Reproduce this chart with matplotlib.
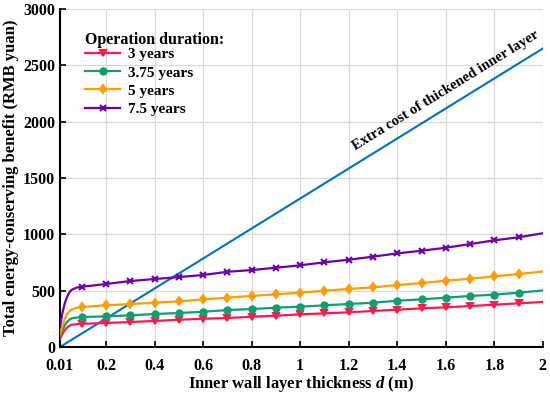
import numpy as np
import matplotlib.pyplot as plt

plt.rcParams['font.family'] = ['Liberation Serif', 'DejaVu Serif']
plt.rcParams['font.weight'] = 'bold'
plt.rcParams['axes.labelweight'] = 'bold'
plt.rcParams['mathtext.fontset'] = 'custom'
plt.rcParams['mathtext.it'] = 'Liberation Serif:italic:bold'
plt.rcParams['mathtext.rm'] = 'Liberation Serif:bold'

# thickness d (m)
d_start = [0.01, 0.02, 0.03, 0.04, 0.05, 0.06, 0.08]
d_mark = [0.1, 0.2, 0.3, 0.4, 0.5, 0.6, 0.7, 0.8, 0.9, 1.0,
          1.1, 1.2, 1.3, 1.4, 1.5, 1.6, 1.7, 1.8, 1.9]
d_end = [2.0]

labels = ['3 years', '3.75 years', '5 years', '7.5 years']

# early rise (d_start), marked points (d_mark), end (d_end)
y3_start = [70, 115, 150, 175, 190, 198, 203]
y3_mark = [206, 213, 222, 231, 242, 251, 257, 269, 278, 290,
           299, 308, 320, 331, 343, 352, 364, 375, 388]
y3_end = [400]

y375_start = [100, 150, 195, 225, 245, 255, 262]
y375_mark = [266, 272, 281, 293, 302, 313, 328, 337, 349, 358,
             370, 382, 393, 411, 423, 438, 453, 465, 482]
y375_end = [502]

y5_start = [115, 190, 250, 295, 320, 335, 348]
y5_mark = [355, 370, 382, 393, 405, 423, 438, 453, 468, 482,
           500, 515, 530, 550, 568, 588, 606, 627, 648]
y5_end = [670]

y75_start = [180, 300, 390, 450, 490, 510, 528]
y75_mark = [535, 559, 586, 603, 621, 639, 668, 683, 704, 725,
            752, 775, 802, 831, 855, 881, 914, 947, 974]
y75_end = [1010]

# extra cost line
cost_d = [0.01, 2.0]
cost_y = [0, 2650]

colors = ['#FF1A4B', '#0E9F6E', '#FF9E00', '#6E00AA']
markers = ['v', 'o', 'd', 'x']
series = [(y3_start, y3_mark, y3_end),
          (y375_start, y375_mark, y375_end),
          (y5_start, y5_mark, y5_end),
          (y75_start, y75_mark, y75_end)]

fig = plt.figure(figsize=(5.5, 3.93), dpi=100)
ax = fig.add_axes([0.109, 0.117, 0.878, 0.86])

ax.plot(cost_d, cost_y, color='#0072BD', lw=1.5, zorder=2)

for (ys, ym, ye), c, m, lab in zip(series, colors, markers, labels):
    dd = d_start + d_mark + d_end
    yy = ys + ym + ye
    ax.plot(dd, yy, color=c, lw=1.6, zorder=3)
    ax.plot(d_mark, ym, color=c, lw=0, marker=m, ms=4.5, mew=1.5, zorder=4)
    ax.plot([], [], color=c, lw=1.6, marker=m, ms=4.5, mew=1.5, label=lab)

ax.text(1.6, 2280, 'Extra cost of thickened inner layer', rotation=31.7,
        ha='center', va='center', fontsize=10.5, fontweight='bold')

ax.set_xlim(0.01, 2)
ax.set_ylim(0, 3000)
xt = [0.01, 0.2, 0.4, 0.6, 0.8, 1, 1.2, 1.4, 1.6, 1.8, 2]
xtl = ['0.01', '0.2', '0.4', '0.6', '0.8', '1', '1.2', '1.4', '1.6', '1.8', '2']
ax.set_xticks(xt)
ax.set_xticklabels(xtl, fontweight='bold', fontsize=11.5)
yt = np.arange(0, 3001, 500)
ax.set_yticks(yt)
ax.set_yticklabels([str(v) for v in yt], fontweight='bold', fontsize=11.5)
ax.tick_params(direction='in', width=1.2, length=4)
ax.tick_params(axis='x', pad=8)
ax.grid(True, color='#d9d9d9', lw=0.9)
ax.set_axisbelow(True)
for s in ['top', 'right']:
    ax.spines[s].set_visible(False)
for s in ['left', 'bottom']:
    ax.spines[s].set_linewidth(1.5)

ax.set_xlabel(r'Inner wall layer thickness $d$ (m)', fontsize=12, fontweight='bold', labelpad=0)
ax.set_ylabel('Total energy-conserving benefit (RMB yuan)', fontsize=12,
              fontweight='bold', labelpad=3)

leg = ax.legend(title='Operation duration:', loc='upper left', bbox_to_anchor=(0.03, 0.965),
                frameon=False, prop={'size': 11, 'weight': 'bold'}, handlelength=2.3,
                labelspacing=0.3, borderaxespad=0.3, handletextpad=0.5)
leg._legend_box.align = 'left'
leg._legend_box.sep = 0
leg.get_title().set_fontweight('bold')
leg.get_title().set_fontsize(11.5)

fig.savefig('out.png', dpi=100)
